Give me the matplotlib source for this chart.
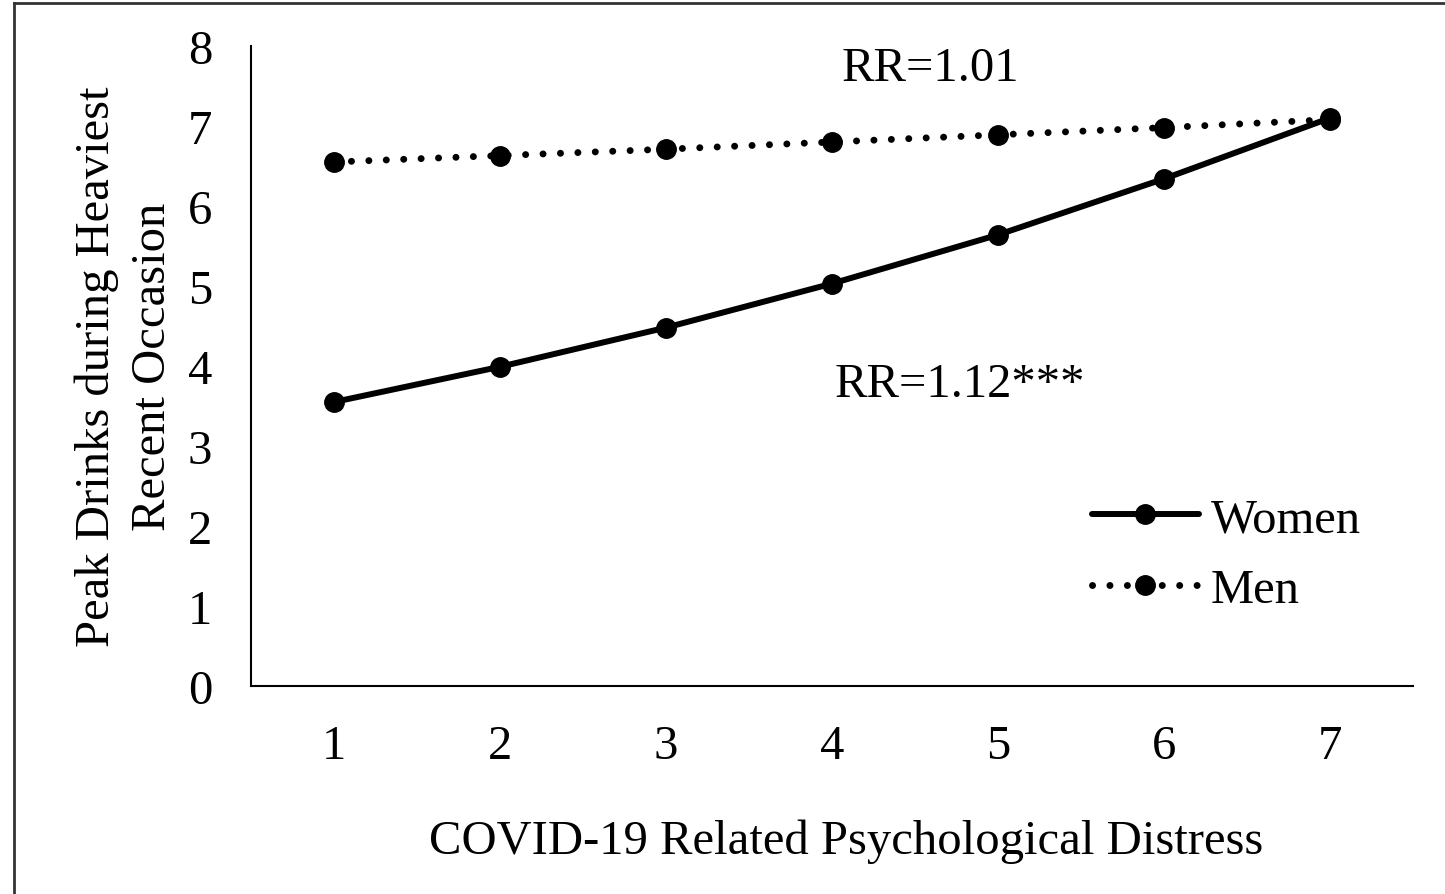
import matplotlib.pyplot as plt
from matplotlib.lines import Line2D

# values
distress = [1, 2, 3, 4, 5, 6, 7]
women = [3.55, 3.99, 4.48, 5.03, 5.64, 6.34, 7.10]
men = [6.55, 6.63, 6.71, 6.80, 6.89, 6.98, 7.08]
y_ticks = [0, 1, 2, 3, 4, 5, 6, 7, 8]

plt.rcParams['font.family'] = ['Liberation Serif', 'DejaVu Serif']
fs = 35

fig = plt.figure(figsize=(14.45, 8.95), dpi=100)
ax = fig.add_axes([0.1737, 0.2324, 0.8042, 0.7151])

ax.plot(distress, women, color='black', linewidth=4.3, marker='o', markersize=14,
        solid_capstyle='round', label='Women')
ax.plot(distress, men, color='black', linewidth=5, linestyle=(0, (0.01, 2.5)),
        dash_capstyle='round', marker='o', markersize=14, label='Men')

ax.set_xlim(0.5, 7.5)
ax.set_ylim(0, 8)
ax.set_xticks(distress)
ax.set_yticks(y_ticks)
ax.tick_params(length=0, labelsize=fs)
ax.tick_params(axis='x', pad=27)
ax.tick_params(axis='y', pad=28)
for s in ['top', 'right']:
    ax.spines[s].set_visible(False)
for s in ['left', 'bottom']:
    ax.spines[s].set_linewidth(1.5)

ax.set_xlabel('COVID-19 Related Psychological Distress', fontsize=fs)
ax.xaxis.set_label_coords(0.512, -0.207)
ax.set_ylabel('Peak Drinks during Heaviest\nRecent Occasion', fontsize=fs,
              labelpad=9, linespacing=1.35)

ax.text(4.59, 7.72, 'RR=1.01', fontsize=fs, ha='center', va='center')
ax.text(4.77, 3.77, 'RR=1.12***', fontsize=fs, ha='center', va='center')

ax.legend(loc='lower right', bbox_to_anchor=(0.993, 0.047), frameon=False, fontsize=fs,
          handlelength=2.2, handletextpad=0.25, labelspacing=0.55)

# outer border of the figure
fig.add_artist(Line2D([14 / 1445, 14 / 1445], [0, 1 - 4 / 895], color='#333333', linewidth=2,
                      transform=fig.transFigure))
fig.add_artist(Line2D([14 / 1445, 1], [1 - 4 / 895, 1 - 4 / 895], color='#333333', linewidth=2,
                      transform=fig.transFigure))

fig.savefig('out.png', dpi=100)
